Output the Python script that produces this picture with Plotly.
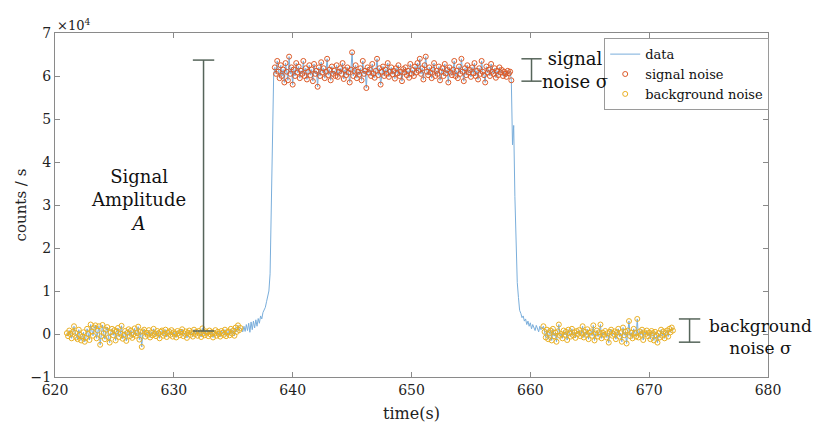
import numpy as np
import plotly.graph_objects as go

# ---------------- data (counts/s in units of 1e4) ----------------
dt = 0.1
t_bg_left_start = 621.0
bg_left = [
    0.02, -0.05, 0.08, 0.00, -0.10, 0.05, 0.18, 0.03, -0.08, -0.12,
    0.10, -0.02, -0.15, -0.06, 0.04, -0.18, -0.09, 0.12, 0.00, -0.14,
    0.22, 0.06, -0.04, 0.15, 0.20, -0.10, 0.08, 0.18, -0.25, -0.05,
    0.21, 0.02, -0.12, 0.10, 0.16, -0.08, -0.20, 0.04, 0.12, -0.03,
    0.09, -0.15, 0.06, 0.14, -0.07, 0.01, 0.19, -0.11, -0.02, 0.07,
    -0.16, 0.03, 0.11, -0.05, 0.08, -0.09, -0.01, 0.13, -0.04, 0.02,
    0.17, -0.13, 0.05, -0.30, 0.06, 0.10, -0.06, 0.03, -0.02, 0.09,
    -0.08, 0.04, -0.03, 0.12, 0.00, -0.05, 0.07, 0.02, -0.10, 0.05,
    0.08, -0.04, 0.01, 0.10, -0.07, 0.03, 0.06, -0.02, 0.09, -0.06,
    0.04, 0.00, -0.08, 0.07, 0.02, -0.03, 0.05, 0.11, -0.05, 0.01,
    0.06, -0.09, 0.03, 0.08, -0.02, 0.04, -0.06, 0.10, 0.00, 0.05,
    -0.04, 0.07, 0.02, -0.07, 0.13, 0.01, -0.03, 0.06, 0.03, -0.05,
    0.08, -0.01, 0.04, -0.08, 0.02, 0.09, -0.04, 0.05, 0.00, -0.06,
    0.07, 0.03, -0.02, 0.10, -0.05, 0.04, 0.06, -0.03, 0.12, 0.01,
    0.08, -0.04, 0.15, 0.05, 0.20, 0.09, 0.14,
]
rise = [
    0.12, 0.05, 0.18, 0.06, 0.22, 0.08, 0.25, 0.04, 0.28, 0.10,
    0.30, 0.14, 0.33, 0.18, 0.36, 0.25, 0.42, 0.35, 0.50, 0.55,
    0.62, 0.75, 0.85, 1.00, 1.40, 3.00, 5.40, 6.00,
]
signal = [
    6.20, 6.05, 6.35, 6.10, 5.95, 6.25, 6.00, 6.15, 5.85, 6.30,
    6.10, 5.90, 6.45, 6.05, 6.20, 5.80, 6.15, 6.00, 6.30, 6.08,
    6.22, 5.95, 6.12, 6.05, 6.35, 6.00, 6.18, 5.92, 6.10, 6.25,
    6.02, 6.15, 5.88, 6.28, 6.05, 6.12, 5.75, 6.20, 6.00, 6.32,
    6.08, 6.18, 5.95, 6.10, 6.40, 6.02, 6.15, 5.90, 6.22, 6.05,
    6.12, 6.00, 6.25, 5.98, 6.10, 6.18, 6.05, 6.30, 5.93, 6.14,
    6.02, 6.20, 6.08, 5.85, 6.15, 6.55, 6.00, 6.12, 6.25, 5.95,
    6.10, 6.03, 6.18, 5.90, 6.35, 6.05, 6.12, 5.72, 6.20, 6.08,
    6.15, 6.00, 6.28, 6.06, 5.96, 6.12, 6.40, 6.02, 6.18, 5.80,
    6.10, 6.22, 6.00, 6.15, 6.05, 6.30, 5.98, 6.10, 6.20, 6.04,
    6.12, 5.94, 6.18, 6.06, 6.25, 6.00, 6.10, 5.88, 6.16, 6.08,
    6.20, 6.02, 6.12, 5.96, 6.28, 6.05, 6.14, 6.00, 6.22, 6.08,
    6.30, 6.12, 6.40, 6.05, 6.18, 5.92, 6.25, 6.45, 6.10, 6.02,
    6.20, 6.08, 5.95, 6.15, 6.30, 6.00, 6.12, 6.05, 6.22, 5.90,
    6.10, 6.18, 6.00, 6.28, 6.06, 6.14, 5.85, 6.20, 6.08, 6.02,
    6.15, 6.35, 6.00, 6.12, 5.95, 6.22, 6.05, 6.40, 6.10, 5.88,
    6.18, 6.02, 6.25, 6.08, 6.14, 5.98, 6.20, 6.06, 6.30, 6.00,
    6.12, 5.92, 6.18, 6.05, 6.35, 6.10, 6.02, 5.85, 6.22, 6.08,
    6.15, 6.00, 6.28, 6.10, 6.05, 6.18, 5.96, 6.12, 6.02, 6.20,
    6.08, 6.14, 6.00, 6.10, 6.05, 5.98, 6.12, 6.06, 6.10, 5.90,
]
fall = [
    4.40, 4.85, 3.20, 1.80, 1.20, 0.85, 0.55, 0.48, 0.38, 0.42,
    0.30, 0.35, 0.22, 0.30, 0.18, 0.26, 0.12, 0.22, 0.15, 0.08,
    0.20, 0.10, 0.05, 0.18, 0.10, 0.14,
]
bg_right = [
    0.18, 0.05, -0.08, 0.10, -0.12, 0.02, 0.08, -0.15, 0.12, -0.05,
    0.03, -0.18, 0.06, 0.22, -0.04, 0.00, -0.10, 0.08, -0.02, 0.05,
    -0.14, 0.10, 0.02, -0.06, 0.12, -0.03, 0.04, -0.09, 0.07, 0.00,
    0.09, -0.05, 0.02, 0.18, -0.08, 0.05, -0.02, 0.11, -0.12, 0.03,
    0.06, -0.04, 0.20, -0.15, 0.01, 0.08, -0.06, 0.04, 0.22, -0.10,
    0.03, -0.02, 0.07, -0.08, 0.02, -0.20, 0.05, 0.10, -0.04, 0.00,
    0.06, -0.12, 0.04, 0.12, -0.06, 0.02, -0.18, 0.15, -0.03, 0.05,
    -0.22, 0.08, 0.30, -0.05, 0.03, -0.10, 0.12, 0.02, -0.06, 0.35,
    -0.08, 0.06, -0.02, 0.10, -0.14, 0.04, 0.00, 0.08, -0.05, 0.03,
    -0.12, 0.07, 0.02, -0.15, 0.05, -0.03, -0.20, 0.02, -0.08, 0.10,
    -0.04, 0.06, -0.10, 0.02, 0.08, -0.06, 0.12, 0.04, 0.15, 0.08,
]

x_ticks = [620, 630, 640, 650, 660, 670, 680]
y_ticks = [-1, 0, 1, 2, 3, 4, 5, 6, 7]

# ---------------- build series ----------------
segments = [bg_left, rise, signal, fall, bg_right]
all_y = np.concatenate([np.array(s, dtype=float) for s in segments])
all_t = np.round(t_bg_left_start + dt * np.arange(len(all_y)), 2)

n1 = len(bg_left)
n2 = n1 + len(rise)
n3 = n2 + len(signal)
n4 = n3 + len(fall)

FONT = "DejaVu Serif"
AX = "#8a8a8a"
BR = "#56655a"

fig = go.Figure()
fig.add_trace(go.Scatter(x=all_t, y=all_y, mode="lines", name="data",
                         line=dict(color="#7aaedb", width=1)))
fig.add_trace(go.Scatter(x=all_t[n2:n3], y=all_y[n2:n3], mode="markers",
                         name="signal noise",
                         marker=dict(symbol="circle-open", size=5,
                                     color="#dc5a28", line=dict(width=1))))
bg_t = np.concatenate([all_t[:n1], all_t[n4:]])
bg_y = np.concatenate([all_y[:n1], all_y[n4:]])
fig.add_trace(go.Scatter(x=bg_t, y=bg_y, mode="markers",
                         name="background noise",
                         marker=dict(symbol="circle-open", size=5,
                                     color="#eab024", line=dict(width=1))))

# ---------------- brackets ----------------
def bracket(x, y0, y1, half):
    fig.add_shape(type="line", x0=x, x1=x, y0=y0, y1=y1,
                  line=dict(color=BR, width=1.5))
    for yy in (y0, y1):
        fig.add_shape(type="line", x0=x - half, x1=x + half, y0=yy, y1=yy,
                      line=dict(color=BR, width=1.5))

bracket(632.5, 0.07, 6.37, 0.9)
bracket(660.1, 5.88, 6.40, 0.85)
bracket(673.4, -0.19, 0.35, 0.9)

fig.add_annotation(x=627.0, y=3.12, text="Signal<br>Amplitude<br><i>A</i>",
                   showarrow=False, font=dict(family=FONT, size=18, color="#111"),
                   align="center")
fig.add_annotation(x=663.8, y=6.14, text="signal<br>noise σ",
                   showarrow=False, font=dict(family=FONT, size=18, color="#111"),
                   align="center")
fig.add_annotation(x=679.4, y=-0.07, text="background<br>noise σ",
                   showarrow=False, font=dict(family=FONT, size=17, color="#111"),
                   align="center")
fig.add_annotation(xref="paper", yref="paper", x=0.0, y=1.0,
                   xanchor="left", yanchor="bottom", yshift=-2,
                   text="×10<sup>4</sup>", showarrow=False,
                   font=dict(family=FONT, size=13, color="#222"))

fig.update_layout(
    width=821, height=432,
    margin=dict(l=55, r=53, t=33, b=55, autoexpand=False),
    paper_bgcolor="white", plot_bgcolor="white",
    font=dict(family=FONT, size=14, color="#222"),
    showlegend=True,
    legend=dict(x=0.886, y=0.985, xanchor="center", yanchor="top",
                bgcolor="white", bordercolor="#9a9a9a", borderwidth=1,
                font=dict(family=FONT, size=13, color="#111"),
                itemwidth=30, tracegroupgap=0),
)
fig.update_xaxes(range=[620, 680], tickvals=x_ticks, ticks="inside",
                 ticklen=5, tickcolor=AX, showline=True, linecolor=AX,
                 linewidth=1, mirror="ticks", showgrid=False, zeroline=False,
                 automargin=False,
                 title=dict(text="time(s)", standoff=11,
                            font=dict(family=FONT, size=16)))
fig.update_yaxes(range=[-1, 7], tickvals=y_ticks, ticks="inside",
                 ticklen=5, tickcolor=AX, showline=True, linecolor=AX,
                 linewidth=1, mirror="ticks", showgrid=False, zeroline=False,
                 automargin=False,
                 title=dict(text="counts / s", standoff=0,
                            font=dict(family=FONT, size=15)))

fig.write_html("out.html",
               config={"displayModeBar": False},
               post_script="document.body.style.margin='0';"
                           "document.body.style.overflow='hidden';")
